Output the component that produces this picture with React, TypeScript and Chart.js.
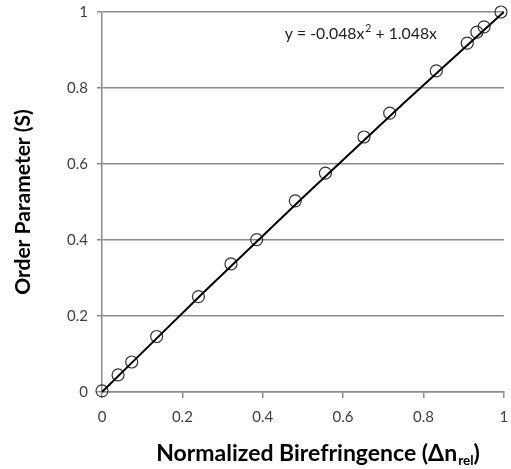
import React, { useEffect, useRef } from "react";
import { Chart, registerables } from "chart.js";

Chart.register(...registerables);

const birefringence = [0, 0.04, 0.074, 0.136, 0.24, 0.321, 0.385, 0.481, 0.556, 0.652, 0.716, 0.832, 0.909, 0.933, 0.951, 0.993];
const orderParameter = [0.003, 0.045, 0.079, 0.146, 0.251, 0.337, 0.401, 0.503, 0.576, 0.671, 0.734, 0.845, 0.918, 0.947, 0.961, 1.0];
const trendX = [0, 0.25, 0.5, 0.75, 1];
const trendY = [0, 0.259, 0.512, 0.759, 1.0];
const equationText = ["y = -0.048x", "2", " + 1.048x"];
const xTitle = ["Normalized Birefringence (\u0394n", "rel", ")"];
const yTitle = "Order Parameter (S)";

const FONT = "Lato, 'Open Sans', sans-serif";
const fmt = (v: any) => String(Number(Number(v).toFixed(2)));

const annotations = {
  id: "annotations",
  afterDraw(chart: any) {
    const ctx = chart.ctx;
    const area = chart.chartArea;
    ctx.save();
    ctx.fillStyle = "#222";
    ctx.textBaseline = "alphabetic";
    ctx.textAlign = "left";
    const ex = area.left + (area.right - area.left) * 0.455;
    const ey = area.top + 27;
    ctx.font = `15.8px ${FONT}`;
    const w0 = ctx.measureText(equationText[0]).width;
    ctx.fillText(equationText[0], ex, ey);
    ctx.font = `10.5px ${FONT}`;
    const w1 = ctx.measureText(equationText[1]).width;
    ctx.fillText(equationText[1], ex + w0 + 1, ey - 7);
    ctx.font = `15.8px ${FONT}`;
    ctx.fillText(equationText[2], ex + w0 + w1 + 1, ey);

    ctx.fillStyle = "#000";
    const big = `bold 23px ${FONT}`;
    const small = `bold 13.5px ${FONT}`;
    ctx.font = big;
    const a = ctx.measureText(xTitle[0]).width;
    const c = ctx.measureText(xTitle[2]).width;
    ctx.font = small;
    const b = ctx.measureText(xTitle[1]).width;
    const total = a + b + c + 1;
    const cx = 318;
    let x = cx - total / 2;
    const by = chart.height - 8;
    ctx.font = big;
    ctx.fillText(xTitle[0], x, by);
    x += a + 1;
    ctx.font = small;
    ctx.fillText(xTitle[1], x, by + 4);
    x += b;
    ctx.font = big;
    ctx.fillText(xTitle[2], x, by);
    ctx.restore();
  },
};

export default function App() {
  const ref = useRef<HTMLCanvasElement>(null);
  useEffect(() => {
    document.body.style.margin = "0";
    const chart = new Chart(ref.current!, {
      type: "scatter",
      data: {
        datasets: [
          {
            type: "line",
            data: trendX.map((v, i) => ({ x: v, y: trendY[i] })),
            borderColor: "#000",
            borderWidth: 2,
            pointRadius: 0,
            fill: false,
            clip: false,
            cubicInterpolationMode: "monotone",
          },
          {
            data: birefringence.map((v, i) => ({ x: v, y: orderParameter[i] })),
            pointRadius: 6,
            pointBorderWidth: 1.2,
            pointBorderColor: "#333",
            pointBackgroundColor: "rgba(0,0,0,0)",
            showLine: false,
            clip: false,
          },
        ],
      },
      options: {
        animation: false,
        responsive: false,
        layout: { padding: { top: 12, right: 2, left: 0, bottom: 0 } },
        plugins: { legend: { display: false }, tooltip: { enabled: false } },
        scales: {
          x: {
            type: "linear",
            min: 0,
            max: 1,
            ticks: { stepSize: 0.2, color: "#404040", font: { family: FONT, size: 15 }, padding: 10, callback: fmt },
            grid: { drawOnChartArea: false, drawTicks: true, tickLength: 6, color: "#8c8c8c", lineWidth: 1.5 },
            border: { display: true, color: "#8c8c8c", width: 1.5 },
            afterFit: (s: any) => { s.height = 77; s.paddingRight = 0; s.paddingLeft = 0; },
          },
          y: {
            type: "linear",
            min: 0,
            max: 1,
            ticks: { stepSize: 0.2, color: "#404040", font: { family: FONT, size: 15 }, padding: 9, callback: fmt },
            grid: { drawOnChartArea: true, drawTicks: true, tickLength: 5, color: "#8c8c8c", lineWidth: 1.5 },
            border: { display: true, color: "#8c8c8c", width: 1.5 },
            title: { display: true, text: yTitle, color: "#000", font: { family: FONT, size: 21, weight: "bold" }, padding: { top: 11, bottom: 4 } },
            afterFit: (s: any) => { s.width = 102; s.paddingTop = 0; s.paddingBottom = 0; },
          },
        },
      },
      plugins: [annotations],
    });
    return () => chart.destroy();
  }, []);
  return <canvas ref={ref} width={511} height={469} style={{ display: "block" }} />;
}
